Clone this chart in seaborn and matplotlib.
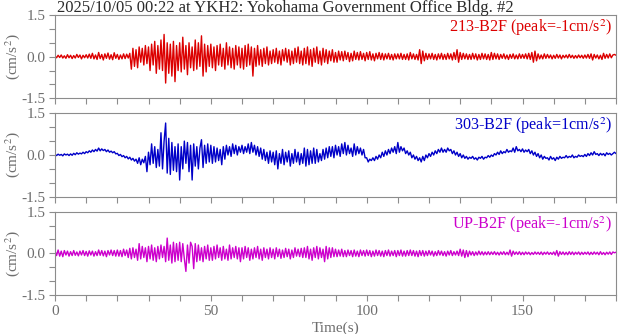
import numpy as np
import pandas as pd
import matplotlib
matplotlib.use("Agg")
import matplotlib.pyplot as plt
import seaborn as sns
from matplotlib.ticker import MultipleLocator, FixedLocator, FixedFormatter

# ---------------- data (cm/s^2, sampled every 0.5 s) ----------------
dt = 0.5
title_text = "2025/10/05 00:22 at YKH2: Yokohama Government Office Bldg. #2"
channels = ["213-B2F", "303-B2F", "UP-B2F"]
peaks = ["-1", "1", "-1"]
colors = ["#dc0000", "#0000c8", "#cc00cc"]
xtick_labels = [0, 50, 100, 150]
ytick_labels = [-1.5, 0.0, 1.5]

ch_213 = [
    0.02,-0.04,0.05,-0.03,0.06,-0.05,0.03,-0.06,0.07,-0.04,0.05,-0.07,0.04,-0.05,0.08,-0.03,0.06,-0.08,0.05,-0.04,
    0.07,-0.05,0.09,-0.06,0.12,-0.08,0.06,-0.1,0.15,-0.07,0.08,-0.12,0.1,-0.06,0.13,-0.09,0.07,-0.11,0.14,-0.06,
    0.08,-0.1,0.06,-0.08,0.1,-0.07,0.09,-0.05,0.12,-0.45,0.3,-0.35,0.25,-0.4,0.35,-0.2,0.3,-0.3,0.4,-0.25,
    0.35,-0.5,0.45,-0.3,0.55,-0.6,0.4,-0.45,0.6,-0.5,0.8,-0.95,0.5,-0.6,0.45,-0.7,0.55,-0.9,0.4,-0.5,
    0.5,-0.55,0.7,-0.45,0.4,-0.65,0.5,-0.4,0.35,-0.5,0.6,-0.45,0.5,-0.35,0.75,-0.7,0.45,-0.55,0.4,-0.35,
    0.45,-0.4,0.35,-0.5,0.4,-0.3,0.45,-0.35,0.3,-0.45,0.5,-0.3,0.35,-0.4,0.3,-0.45,0.4,-0.3,0.35,-0.4,
    0.3,-0.45,0.4,-0.35,0.45,-0.3,0.35,-0.7,0.3,-0.35,0.4,-0.3,0.25,-0.35,0.3,-0.25,0.35,-0.3,0.2,-0.25,
    0.25,-0.2,0.3,-0.25,0.2,-0.3,0.25,-0.15,0.3,-0.2,0.25,-0.3,0.2,-0.25,0.3,-0.2,0.35,-0.25,0.2,-0.3,
    0.3,-0.25,0.35,-0.3,0.25,-0.35,0.3,-0.2,0.35,-0.25,0.2,-0.3,0.3,-0.2,0.25,-0.25,0.2,-0.15,0.25,-0.2,
    0.15,-0.2,0.2,-0.12,0.18,-0.15,0.2,-0.1,0.15,-0.18,0.12,-0.15,0.2,-0.1,0.15,-0.12,0.18,-0.1,0.12,-0.15,
    0.15,-0.1,0.18,-0.12,0.1,-0.15,0.12,-0.08,0.15,-0.1,0.12,-0.12,0.1,-0.08,0.12,-0.1,0.08,-0.12,0.1,-0.08,
    0.1,-0.08,0.12,-0.1,0.08,-0.1,0.1,-0.12,0.15,-0.08,0.1,-0.1,0.08,-0.12,0.25,-0.25,0.2,-0.15,0.12,-0.1,
    0.1,-0.08,0.12,-0.1,0.08,-0.12,0.1,-0.08,0.12,-0.1,0.08,-0.1,0.12,-0.08,0.1,-0.12,0.15,-0.1,0.25,-0.2,
    0.15,-0.1,0.12,-0.08,0.1,-0.1,0.08,-0.1,0.12,-0.08,0.1,-0.12,0.08,-0.1,0.12,-0.08,0.1,-0.1,0.08,-0.12,
    0.15,-0.1,0.12,-0.08,0.1,-0.1,0.08,-0.06,0.1,-0.08,0.06,-0.1,0.08,-0.06,0.1,-0.08,0.06,-0.08,0.1,-0.06,
    0.08,-0.06,0.1,-0.08,0.12,-0.1,0.15,-0.2,0.2,-0.15,0.1,-0.08,0.06,-0.08,0.1,-0.06,0.08,-0.05,0.06,-0.08,
    0.05,-0.06,0.08,-0.05,0.06,-0.08,0.05,-0.04,0.06,-0.05,0.08,-0.04,0.05,-0.06,0.04,-0.05,0.06,-0.04,0.05,-0.06,
    0.06,-0.05,0.08,-0.06,0.1,-0.12,0.08,-0.05,0.06,-0.08,0.05,-0.1,0.12,-0.06,0.08,-0.05,0.1,-0.04,0.06,0.08,
    0.05,
]

ch_303 = [
    0.02,-0.02,0.03,-0.01,0.02,-0.03,0.04,0.0,0.03,-0.02,0.04,-0.01,0.06,0.01,0.08,0.03,0.07,0.04,0.1,0.05,
    0.12,0.08,0.15,0.1,0.18,0.12,0.2,0.14,0.25,0.15,0.22,0.16,0.2,0.12,0.18,0.1,0.14,0.08,0.12,0.04,
    0.06,-0.02,0.02,-0.06,-0.02,-0.1,-0.05,-0.14,-0.08,-0.18,-0.12,-0.22,-0.15,-0.3,-0.1,-0.35,-0.15,-0.28,-0.05,-0.6,
    0.1,-0.35,0.4,-0.3,0.3,-0.45,0.2,-0.4,0.8,-0.5,0.5,1.15,-0.65,0.6,-0.7,0.45,-0.55,0.3,-0.6,0.4,
    -0.9,0.3,-0.5,0.5,-0.3,0.45,-0.6,0.35,-0.9,0.4,-0.4,0.3,-0.5,0.25,0.55,-0.45,0.35,-0.3,0.4,-0.25,
    0.35,-0.3,0.3,-0.25,0.25,-0.2,0.2,-0.35,0.3,-0.15,0.35,0.0,0.3,-0.05,0.4,0.05,0.35,0.0,0.3,0.1,
    0.35,0.05,0.3,0.1,0.4,0.05,0.45,0.1,0.35,0.0,0.3,-0.05,0.25,-0.15,0.2,-0.2,0.1,-0.3,0.15,-0.25,
    0.1,-0.35,0.15,-0.5,0.05,-0.3,0.2,-0.35,0.1,-0.25,0.15,-0.4,0.05,-0.3,0.2,-0.25,0.1,-0.35,0.05,-0.3,
    0.25,-0.4,0.2,-0.35,0.15,-0.3,0.25,-0.3,0.2,-0.25,0.05,-0.2,0.2,-0.15,0.25,-0.1,0.3,-0.05,0.3,-0.1,
    0.35,0.0,0.3,-0.05,0.4,0.05,0.45,0.0,0.35,0.05,0.25,-0.05,0.4,0.0,0.3,0.05,0.25,0.0,0.2,-0.1,
    -0.1,-0.25,-0.15,-0.2,-0.1,-0.2,-0.05,-0.15,0.0,-0.1,0.1,-0.05,0.15,0.0,0.2,0.05,0.25,0.1,0.3,0.05,
    0.45,0.1,0.3,0.15,0.25,0.05,0.15,0.0,0.1,-0.1,0.0,-0.15,-0.05,-0.2,-0.1,-0.25,-0.05,-0.2,0.0,-0.1,
    0.05,-0.05,0.1,0.0,0.15,0.05,0.2,0.1,0.25,0.1,0.2,0.1,0.25,0.15,0.2,0.05,0.15,0.0,0.1,-0.05,
    0.05,-0.1,0.0,-0.12,-0.05,-0.15,-0.08,-0.12,-0.05,-0.15,-0.1,-0.18,-0.08,-0.12,-0.05,-0.15,-0.08,-0.1,-0.02,-0.08,
    0.0,-0.05,0.05,0.0,0.1,0.02,0.15,0.05,0.12,0.08,0.2,0.1,0.15,0.12,0.25,0.1,0.3,0.15,0.2,0.12,
    0.22,0.1,0.18,0.12,0.2,0.05,0.15,0.0,0.1,-0.05,0.05,-0.1,0.0,-0.15,-0.05,-0.12,-0.1,-0.18,-0.05,-0.15,
    -0.1,-0.2,-0.08,-0.15,-0.05,-0.12,-0.08,-0.1,-0.02,-0.1,-0.05,-0.08,0.0,-0.1,-0.05,-0.08,0.0,-0.05,-0.02,-0.06,
    0.02,-0.05,0.05,-0.02,0.08,0.0,0.12,0.02,0.05,-0.02,0.06,0.0,0.05,-0.03,0.08,0.02,0.06,0.0,0.05,0.1,
    0.05,
]

ch_up = [
    0.1,-0.08,0.12,-0.1,0.08,-0.12,0.1,-0.06,0.08,-0.1,0.06,-0.08,0.1,-0.07,0.05,-0.09,0.08,-0.06,0.1,-0.08,
    0.07,-0.1,0.09,-0.06,0.08,-0.1,0.06,-0.08,0.12,-0.07,0.1,-0.09,0.08,-0.12,0.1,-0.06,0.12,-0.08,0.1,-0.1,
    0.12,-0.1,0.1,-0.12,0.15,-0.08,0.12,-0.15,0.18,-0.2,0.2,-0.15,0.15,-0.25,0.35,-0.2,0.25,-0.15,0.2,-0.3,
    0.25,-0.2,0.3,-0.25,0.2,-0.3,0.25,-0.2,0.3,-0.15,0.25,-0.3,0.55,-0.25,0.3,-0.35,0.4,-0.3,0.35,-0.25,
    0.4,-0.3,0.35,-0.2,-0.65,0.3,-0.35,0.4,0.25,-0.55,0.35,-0.3,0.3,-0.25,0.2,-0.3,0.25,-0.2,0.3,-0.25,
    0.2,-0.25,0.25,-0.2,0.3,-0.15,0.2,-0.25,0.25,-0.2,0.15,-0.25,0.3,-0.2,0.2,-0.15,0.25,-0.2,0.2,-0.3,
    0.2,-0.2,0.25,-0.15,0.2,-0.25,0.15,-0.2,0.2,-0.15,0.25,-0.2,0.15,-0.25,0.2,-0.15,0.15,-0.2,0.2,-0.15,
    0.15,-0.2,0.2,-0.12,0.15,-0.18,0.12,-0.15,0.18,-0.12,0.15,-0.2,0.12,-0.15,0.2,-0.1,0.15,-0.12,0.18,-0.15,
    0.2,-0.15,0.25,-0.2,0.15,-0.25,0.2,-0.15,0.25,-0.2,0.2,-0.15,0.15,-0.3,0.25,-0.2,0.2,-0.15,0.2,-0.12,
    0.15,-0.12,0.12,-0.1,0.15,-0.12,0.1,-0.12,0.12,-0.08,0.1,-0.12,0.12,-0.1,0.08,-0.12,0.12,-0.08,0.1,-0.1,
    0.12,-0.08,0.1,-0.12,0.08,-0.1,0.12,-0.08,0.1,-0.1,0.08,-0.12,0.1,-0.08,0.12,-0.1,0.08,-0.08,0.1,-0.12,
    0.1,-0.08,0.12,-0.1,0.08,-0.1,0.1,-0.08,0.12,-0.08,0.1,-0.1,0.08,-0.12,0.1,-0.08,0.1,-0.1,0.08,-0.08,
    0.1,-0.06,0.08,-0.1,0.06,-0.08,0.1,-0.06,0.08,-0.08,0.06,-0.1,0.08,-0.06,0.1,-0.08,0.06,-0.06,0.08,-0.08,
    0.15,-0.1,0.12,-0.15,0.1,-0.12,0.08,-0.06,0.06,-0.08,0.05,-0.06,0.08,-0.05,0.06,-0.06,0.05,-0.05,0.06,-0.05,
    0.05,-0.04,0.06,-0.05,0.04,-0.06,0.05,-0.04,0.06,-0.05,0.04,-0.05,0.12,-0.1,0.08,-0.04,0.05,-0.04,0.06,-0.05,
    0.04,-0.05,0.05,-0.03,0.04,-0.05,0.03,-0.04,0.05,-0.03,0.04,-0.04,0.05,-0.05,0.04,-0.03,0.05,-0.04,0.03,-0.04,
    0.05,-0.06,0.1,-0.1,0.06,-0.04,0.05,-0.05,0.04,-0.05,0.06,-0.04,0.05,-0.05,0.04,-0.03,0.05,-0.05,0.04,-0.04,
    0.04,-0.03,0.05,-0.05,0.04,-0.04,0.05,-0.03,0.04,-0.05,0.06,-0.04,0.03,-0.05,0.04,-0.03,0.05,-0.04,0.05,0.02,
    0.04,
]

series = [ch_213, ch_303, ch_up]

# ---------------- styling ----------------
sns.set_style("ticks")
plt.rcParams["font.family"] = ["Liberation Serif", "DejaVu Serif"]
plt.rcParams["mathtext.fontset"] = "stix"
tick_gray = "#6e6e6e"
spine_gray = "#8c8c8c"

fig = plt.figure(figsize=(6.18, 3.34), dpi=100)
W, H = 618.0, 334.0
left_px, right_px = 55.0, 616.0
panels_px = [(15.0, 98.3), (113.3, 196.7), (211.7, 295.0)]

axes = []
for i, (top, bot) in enumerate(panels_px):
    ax = fig.add_axes([left_px / W, 1 - bot / H, (right_px - left_px) / W, (bot - top) / H])
    vals = series[i]
    df = pd.DataFrame({"t": np.arange(len(vals)) * dt, "a": vals})
    sns.lineplot(data=df, x="t", y="a", ax=ax, color=colors[i], lw=1.0,
                 estimator=None, sort=False)
    ax.set_xlim(0, 180)
    ax.set_ylim(-1.5, 1.5)
    for s in ax.spines.values():
        s.set_color(spine_gray)
        s.set_linewidth(0.8)
    ax.xaxis.set_major_locator(FixedLocator(xtick_labels))
    ax.xaxis.set_minor_locator(MultipleLocator(10))
    ax.yaxis.set_major_locator(FixedLocator(ytick_labels))
    ax.yaxis.set_major_formatter(FixedFormatter([f"{v:.1f}" for v in ytick_labels]))
    ax.yaxis.set_minor_locator(MultipleLocator(0.5))
    ax.tick_params(which="both", direction="out", length=4, width=0.8,
                   color=spine_gray, labelcolor=tick_gray, labelsize=11, pad=3)
    ax.tick_params(top=False, right=False)
    ax.set_xlabel("")
    ax.set_ylabel("(cm/s$^2$)", color=tick_gray, fontsize=11)
    ax.yaxis.label.set_va("center")
    ax.yaxis.set_label_coords(-(left_px - 13) / (right_px - left_px), 0.5)
    if i < 2:
        ax.tick_params(axis="x", labelbottom=False)
    else:
        ax.set_xlabel("Time(s)", color=tick_gray, fontsize=11, labelpad=3)
    ax.text(0.993, 0.97, f"{channels[i]} (peak={peaks[i]}cm/s$^2$)", transform=ax.transAxes,
            ha="right", va="top", color=colors[i], fontsize=11.6)
    axes.append(ax)

fig.text(57 / W, 1 - 12.5 / H, title_text, ha="left", va="baseline", color="#2a2a2a", fontsize=12)

fig.savefig("out.png", dpi=100)
